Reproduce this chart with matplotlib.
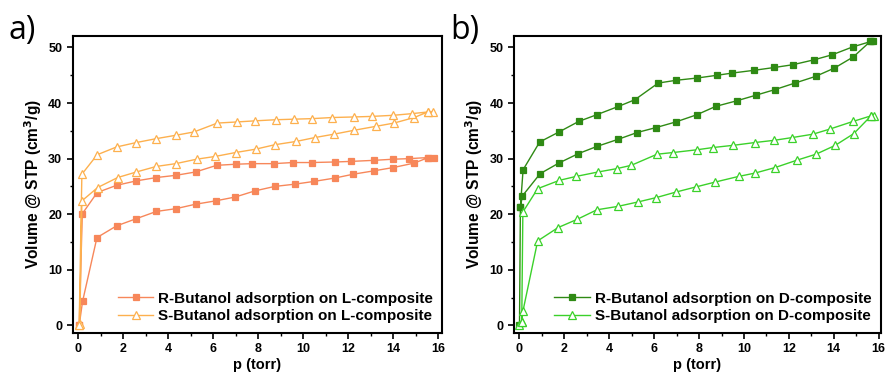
import numpy as np
import matplotlib.pyplot as plt
from matplotlib.ticker import MultipleLocator

# ---- panel a: L-composite ----
pL_R_ads = [0.04, 0.19, 0.83, 1.70, 2.58, 3.47, 4.34, 5.21, 6.10, 6.98, 7.85, 8.73, 9.61,
            10.47, 11.39, 12.22, 13.13, 14.00, 14.93, 15.56, 15.80]
vL_R_ads = [0.0, 4.3, 15.8, 17.9, 19.2, 20.5, 21.0, 21.8, 22.4, 23.1, 24.2, 25.0, 25.4,
            25.9, 26.5, 27.2, 27.8, 28.4, 29.2, 30.2, 30.2]
pL_R_des = [15.56, 14.70, 14.00, 13.16, 12.10, 11.41, 10.37, 9.53, 8.68, 7.72, 7.02, 6.15,
            5.21, 4.34, 3.47, 2.58, 1.70, 0.84, 0.18, 0.04]
vL_R_des = [30.2, 30.0, 29.9, 29.7, 29.5, 29.4, 29.3, 29.3, 29.1, 29.1, 29.0, 28.8,
            27.6, 27.0, 26.6, 26.0, 25.2, 23.9, 20.1, 0.0]

pL_S_ads = [0.04, 0.07, 0.16, 0.86, 1.75, 2.58, 3.47, 4.33, 5.26, 6.09, 6.99, 7.88, 8.73,
            9.69, 10.52, 11.36, 12.25, 13.21, 14.03, 14.93, 15.53, 15.75]
vL_S_ads = [0.1, 0.3, 22.4, 24.8, 26.6, 27.6, 28.6, 29.1, 29.9, 30.4, 31.1, 31.7, 32.5,
            33.1, 33.8, 34.4, 35.1, 35.8, 36.4, 37.4, 38.4, 38.4]
pL_S_des = [15.53, 14.84, 14.00, 13.05, 12.25, 11.29, 10.40, 9.57, 8.77, 7.85, 7.04, 6.18,
            5.14, 4.33, 3.47, 2.58, 1.70, 0.84, 0.16, 0.04]
vL_S_des = [38.4, 38.1, 37.8, 37.6, 37.5, 37.4, 37.2, 37.1, 37.0, 36.8, 36.6, 36.4,
            34.8, 34.2, 33.6, 32.9, 32.1, 30.7, 27.2, 0.1]

# ---- panel b: D-composite ----
pD_R_ads = [0.00, 0.04, 0.13, 0.92, 1.75, 2.62, 3.45, 4.41, 5.24, 6.09, 6.96, 7.90, 8.74,
            9.67, 10.52, 11.36, 12.27, 13.19, 14.03, 14.87, 15.63, 15.73]
vD_R_ads = [0.0, 21.3, 23.3, 27.3, 29.2, 30.9, 32.2, 33.5, 34.7, 35.6, 36.6, 37.9, 39.4,
            40.4, 41.4, 42.4, 43.6, 44.8, 46.3, 48.3, 51.1, 51.1]
pD_R_des = [15.67, 14.84, 13.94, 13.14, 12.18, 11.35, 10.46, 9.48, 8.80, 7.90, 6.98, 6.18,
            5.14, 4.41, 3.44, 2.64, 1.76, 0.90, 0.16, 0.04]
vD_R_des = [51.1, 50.1, 48.7, 47.8, 46.9, 46.4, 45.9, 45.4, 45.0, 44.5, 44.1, 43.6,
            40.6, 39.4, 37.9, 36.7, 34.8, 33.0, 28.0, 21.3]

pD_S_ads = [0.00, 0.10, 0.15, 0.81, 1.72, 2.58, 3.45, 4.37, 5.27, 6.10, 6.98, 7.85, 8.73,
            9.76, 10.49, 11.39, 12.34, 13.21, 14.07, 14.89, 15.66, 15.80]
vD_S_ads = [0.0, 0.6, 2.5, 15.2, 17.6, 19.1, 20.8, 21.4, 22.2, 23.0, 24.0, 24.9, 25.8,
            26.8, 27.4, 28.4, 29.7, 30.8, 32.4, 34.5, 37.7, 37.7]
pD_S_des = [15.66, 14.86, 13.81, 13.07, 12.16, 11.35, 10.49, 9.53, 8.62, 7.91, 6.84, 6.13,
            4.98, 4.33, 3.50, 2.52, 1.78, 0.81, 0.15, 0.10]
vD_S_des = [37.7, 36.7, 35.3, 34.4, 33.8, 33.3, 32.9, 32.4, 32.0, 31.6, 31.1, 30.8,
            28.8, 28.2, 27.6, 26.8, 26.1, 24.6, 20.4, 0.6]

plt.rcParams['font.family'] = ['Liberation Sans', 'DejaVu Sans']

fig = plt.figure(figsize=(8.86, 3.81), dpi=100)
axA = fig.add_axes([0.082, 0.127, 0.417, 0.779])
axB = fig.add_axes([0.580, 0.127, 0.414, 0.779])

def draw(ax, p_ads, v_ads, p_des, v_des, color, marker, label, filled):
    p = list(p_ads) + list(p_des)
    v = list(v_ads) + list(v_des)
    ax.plot(p, v, color=color, lw=1.0, marker=marker,
            ms=4.2 if marker == 's' else 5.2,
            mfc=color if filled else 'white', mec=color, mew=0.9, label=label)

draw(axA, pL_R_ads, vL_R_ads, pL_R_des, vL_R_des, '#F7875A', 's',
     'R-Butanol adsorption on L-composite', True)
draw(axA, pL_S_ads, vL_S_ads, pL_S_des, vL_S_des, '#FDB04E', '^',
     'S-Butanol adsorption on L-composite', False)
draw(axB, pD_R_ads, vD_R_ads, pD_R_des, vD_R_des, '#2F8A14', 's',
     'R-Butanol adsorption on D-composite', True)
draw(axB, pD_S_ads, vD_S_ads, pD_S_des, vD_S_des, '#3BD12A', '^',
     'S-Butanol adsorption on D-composite', False)

for ax, xr, lab, lx in [(axA, 16.17, 'a)', 0.010), (axB, 16.09, 'b)', 0.508)]:
    ax.set_xlim(-0.25, xr)
    ax.set_ylim(-1.3, 52.1)
    ax.xaxis.set_major_locator(MultipleLocator(2))
    ax.xaxis.set_minor_locator(MultipleLocator(1))
    ax.yaxis.set_major_locator(MultipleLocator(10))
    ax.yaxis.set_minor_locator(MultipleLocator(5))
    ax.tick_params(which='major', direction='out', length=4, width=1.2, labelsize=9)
    ax.tick_params(which='minor', direction='out', length=2.5, width=1.0)
    for lbl in ax.get_xticklabels() + ax.get_yticklabels():
        lbl.set_fontweight('bold')
    for s in ax.spines.values():
        s.set_linewidth(1.5)
    ax.set_xlabel('p (torr)', fontsize=10.5, fontweight='bold', labelpad=2)
    ax.set_ylabel('Volume @ STP (cm$^\\mathbf{3}$/g)', fontsize=11.2, fontweight='bold',
                  labelpad=3)
    ax.legend(loc='lower right', frameon=False, handlelength=2.35, handletextpad=0.3,
              borderaxespad=0.2, labelspacing=0.25,
              prop={'weight': 'bold', 'size': 11})
    fig.text(lx, 0.921, lab, fontsize=23, family=['Open Sans', 'DejaVu Sans'],
             ha='left', va='center')

fig.savefig('out.png', dpi=100)
